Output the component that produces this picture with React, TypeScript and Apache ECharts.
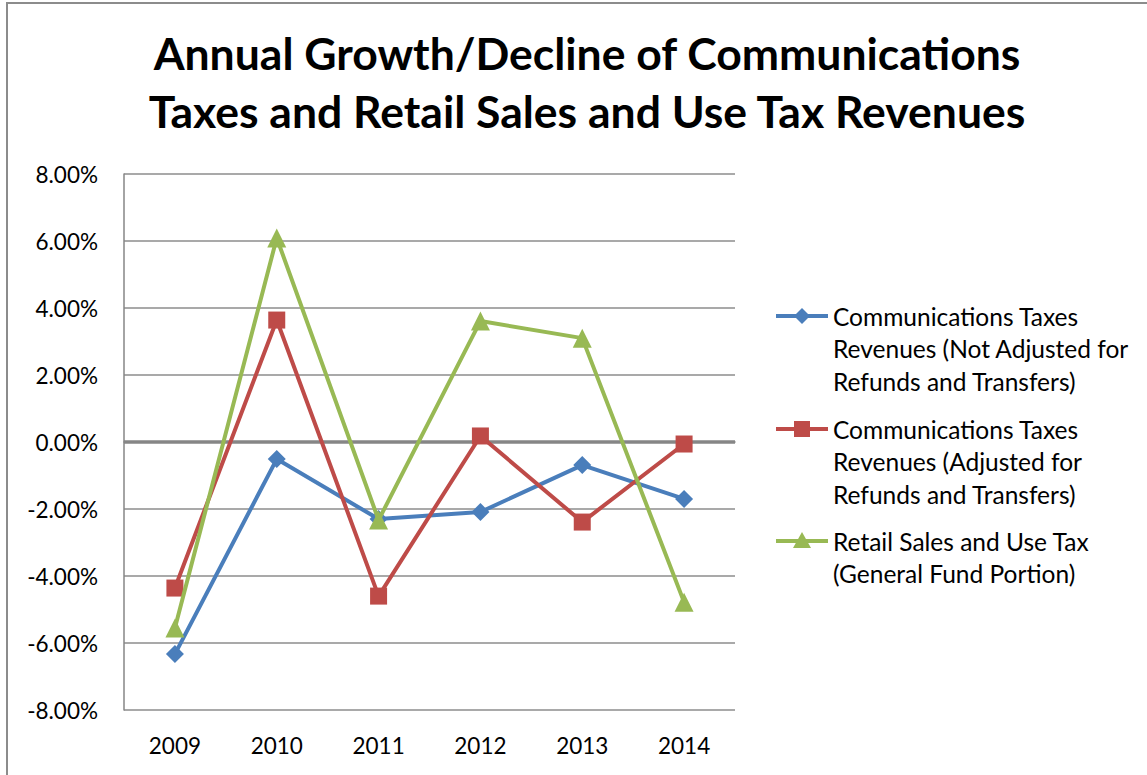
import React, { useEffect, useRef } from "react";
import * as echarts from "echarts";

const years = ["2009", "2010", "2011", "2012", "2013", "2014"];
const notAdjusted = [-6.33, -0.51, -2.3, -2.09, -0.69, -1.7];
const adjusted = [-4.36, 3.64, -4.6, 0.18, -2.39, -0.06];
const retail = [-5.55, 6.09, -2.33, 3.61, 3.1, -4.78];
const seriesNames = [
  "Communications Taxes\nRevenues (Not Adjusted for\nRefunds and Transfers)",
  "Communications Taxes\nRevenues (Adjusted for\nRefunds and Transfers)",
  "Retail Sales and Use Tax\n(General Fund Portion)",
];
const colors = ["#4A7EBB", "#BE4B48", "#98B954"];
const symbols = ["diamond", "rect", "triangle"];
const titleLines = [
  "Annual Growth/Decline of Communications",
  "Taxes and Retail Sales and Use Tax Revenues",
];

const FONT = "Lato, 'Open Sans', 'Noto Sans', sans-serif";

export default function App() {
  const ref = useRef<HTMLDivElement>(null);
  useEffect(() => {
    if (!ref.current) return;
    const chart = echarts.init(ref.current, null, { renderer: "svg" });
    const datasets = [notAdjusted, adjusted, retail];
    const symbolSizes = [18, 17, 19];
    const legendTops = [316, 429, 541];
    const legendGraphics: any[] = [];
    legendTops.forEach((cy, i) => {
      legendGraphics.push({
        type: "line",
        shape: { x1: 776, y1: cy, x2: 828, y2: cy },
        style: { stroke: colors[i], lineWidth: 4 },
      });
      if (i === 0) {
        legendGraphics.push({
          type: "polygon",
          shape: { points: [[802, cy - 8], [810, cy], [802, cy + 8], [794, cy]] },
          style: { fill: colors[i] },
        });
      } else if (i === 1) {
        legendGraphics.push({
          type: "rect",
          shape: { x: 794, y: cy - 8, width: 16, height: 16 },
          style: { fill: colors[i] },
        });
      } else {
        legendGraphics.push({
          type: "polygon",
          shape: { points: [[802, cy - 9], [811, cy + 7], [793, cy + 7]] },
          style: { fill: colors[i] },
        });
      }
      legendGraphics.push({
        type: "text",
        x: 833,
        y: cy - 16,
        style: {
          text: seriesNames[i],
          font: `24.5px ${FONT}`,
          fill: "#000",
          lineHeight: 32.5,
          verticalAlign: "top",
        },
      });
    });

    chart.setOption({
      animation: false,
      backgroundColor: "#fff",
      textStyle: { fontFamily: FONT },
      title: {
        text: titleLines.join("\n"),
        left: 582,
        textAlign: "center",
        top: 18,
        textStyle: {
          fontFamily: FONT,
          fontSize: 44.5,
          fontWeight: "bold",
          color: "#000",
          lineHeight: 58,
        },
      },
      grid: { left: 124, right: 412, top: 174, bottom: 65, containLabel: false },
      xAxis: {
        type: "category",
        data: years,
        boundaryGap: true,
        axisLine: { show: true, lineStyle: { color: "#868686", width: 1.5 } },
        axisTick: { show: false },
        axisLabel: { color: "#000", fontSize: 22.5, margin: 24, fontFamily: FONT },
        splitLine: { show: false },
      },
      yAxis: {
        type: "value",
        min: -8,
        max: 8,
        interval: 2,
        axisLine: { show: true, lineStyle: { color: "#868686", width: 1.5 } },
        axisTick: { show: false },
        axisLabel: {
          color: "#000",
          fontSize: 22.5,
          margin: 26,
          fontFamily: FONT,
          formatter: (v: number) => v.toFixed(2) + "%",
        },
        splitLine: { show: true, lineStyle: { color: "#8C8C8C", width: 1.5 } },
      },
      graphic: [
        {
          type: "rect",
          shape: { x: 7, y: 3, width: 1200, height: 900 },
          style: { fill: "none", stroke: "#8C8C8C", lineWidth: 2 },
          silent: true,
        },
        ...legendGraphics,
      ],
      series: datasets.map((d, i) => ({
        name: seriesNames[i],
        type: "line",
        data: d,
        symbol: symbols[i],
        symbolSize: symbolSizes[i],
        showAllSymbol: true,
        lineStyle: { color: colors[i], width: 4 },
        itemStyle: { color: colors[i] },
        z: 3 + i,
        markLine:
          i === 0
            ? {
                silent: true,
                symbol: "none",
                label: { show: false },
                lineStyle: { color: "#868686", width: 3.5, type: "solid" },
                data: [{ yAxis: 0 }],
                z: 2,
              }
            : undefined,
      })),
    });
    return () => chart.dispose();
  }, []);
  return (
    <div
      ref={ref}
      style={{ position: "absolute", left: 0, top: 0, width: 1147, height: 775 }}
    />
  );
}
